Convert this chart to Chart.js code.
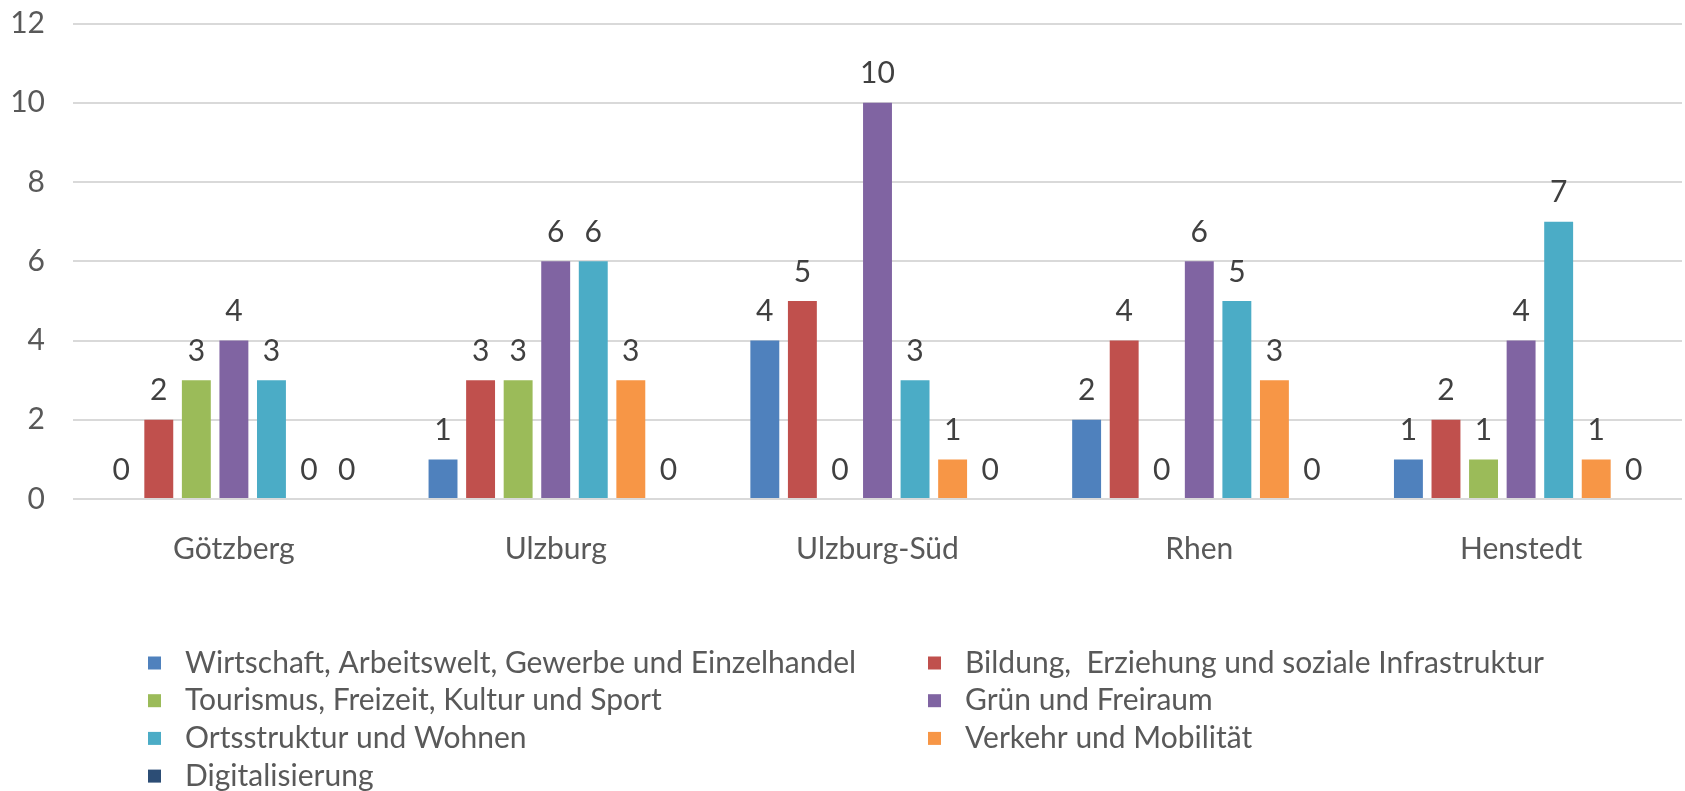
<!DOCTYPE html>
<html>
<head>
<meta charset="utf-8">
<script src="https://cdn.jsdelivr.net/npm/chart.js@4.4.0/dist/chart.umd.min.js"></script>
<style>
  html, body { margin: 0; padding: 0; background: #fff; }
  #wrap { width: 1685px; height: 791px; }
</style>
</head>
<body>
<div id="wrap"><canvas id="chart" width="1685" height="791"></canvas></div>
<script>
// categories (Ortsteile)
const orte = ['Götzberg', 'Ulzburg', 'Ulzburg-Süd', 'Rhen', 'Henstedt']

// one array per Handlungsfeld
const wirtschaft = [0, 1, 4, 2, 1]
const bildung = [2, 3, 5, 4, 2]
const tourismus = [3, 3, 0, 0, 1]
const gruen = [4, 6, 10, 6, 4]
const ortsstruktur = [3, 6, 3, 5, 7]
const verkehr = [0, 3, 1, 3, 1]
const digital = [0, 0, 0, 0, 0]

const seriesNames = [
  'Wirtschaft, Arbeitswelt, Gewerbe und Einzelhandel',
  'Bildung,  Erziehung und soziale Infrastruktur',
  'Tourismus, Freizeit, Kultur und Sport',
  'Grün und Freiraum',
  'Ortsstruktur und Wohnen',
  'Verkehr und Mobilität',
  'Digitalisierung'
]
const seriesValues = [wirtschaft, bildung, tourismus, gruen, ortsstruktur, verkehr, digital]
const seriesColors = ['#4F81BD', '#C0504D', '#9BBB59', '#8064A2', '#4BACC6', '#F79646', '#2C4D75']

const yTicks = [0, 2, 4, 6, 8, 10, 12]

const FONT = 'Lato, "Open Sans", sans-serif'
const FONT_SIZE = 30
const TEXT_GREY = '#595959'

// value labels above each bar (like excel data labels)
const valueLabels = {
  id: 'valueLabels',
  afterDatasetsDraw(chart) {
    const ctx = chart.ctx
    ctx.save()
    ctx.font = FONT_SIZE + 'px ' + FONT
    ctx.fillStyle = '#404040'
    ctx.textAlign = 'center'
    ctx.textBaseline = 'middle'
    chart.data.datasets.forEach((ds, i) => {
      const meta = chart.getDatasetMeta(i)
      meta.data.forEach((bar, j) => {
        ctx.fillText(String(ds.data[j]), bar.x, bar.y - 29)
      })
    })
    ctx.restore()
  }
}

// two column legend under the chart
const gridLegend = {
  id: 'gridLegend',
  afterDraw(chart) {
    const ctx = chart.ctx
    const colX = [148, 928]
    const rowY0 = 663
    const rowH = 37.7
    const box = 13
    ctx.save()
    ctx.font = FONT_SIZE + 'px ' + FONT
    ctx.textBaseline = 'middle'
    ctx.textAlign = 'left'
    chart.data.datasets.forEach((ds, i) => {
      const col = i % 2
      const row = Math.floor(i / 2)
      const x = colX[col]
      const y = rowY0 + row * rowH
      ctx.fillStyle = ds.backgroundColor
      ctx.fillRect(x, y - box / 2, box, box)
      ctx.fillStyle = TEXT_GREY
      ctx.fillText(ds.label, x + 37, y)
    })
    ctx.restore()
  }
}

const datasets = seriesNames.map((name, i) => ({
  label: name,
  data: seriesValues[i],
  backgroundColor: seriesColors[i],
  borderWidth: 0,
  categoryPercentage: 0.817,
  barPercentage: 0.77
}))

new Chart(document.getElementById('chart'), {
  type: 'bar',
  data: { labels: orte, datasets },
  options: {
    responsive: false,
    animation: false,
    layout: { padding: { top: 23.5, right: 3, left: 0, bottom: 0 } },
    plugins: {
      legend: { display: false },
      tooltip: { enabled: false }
    },
    scales: {
      x: {
        grid: { display: false },
        border: { display: false },
        ticks: {
          color: TEXT_GREY,
          font: { family: FONT, size: FONT_SIZE },
          padding: 24,
          maxRotation: 0
        },
        afterFit(scale) { scale.height = 292 }
      },
      y: {
        min: 0,
        max: 12,
        afterBuildTicks(scale) { scale.ticks = yTicks.map(v => ({ value: v })) },
        grid: { color: '#D9D9D9', lineWidth: 2, drawTicks: false },
        border: { display: false },
        ticks: {
          color: TEXT_GREY,
          font: { family: FONT, size: FONT_SIZE },
          padding: 28
        },
        afterFit(scale) {
          scale.width = 73
          // tick padding would otherwise push the plot area down
          scale.paddingTop = 0
          scale.paddingBottom = 0
        }
      }
    }
  },
  plugins: [valueLabels, gridLegend]
})
</script>
</body>
</html>
